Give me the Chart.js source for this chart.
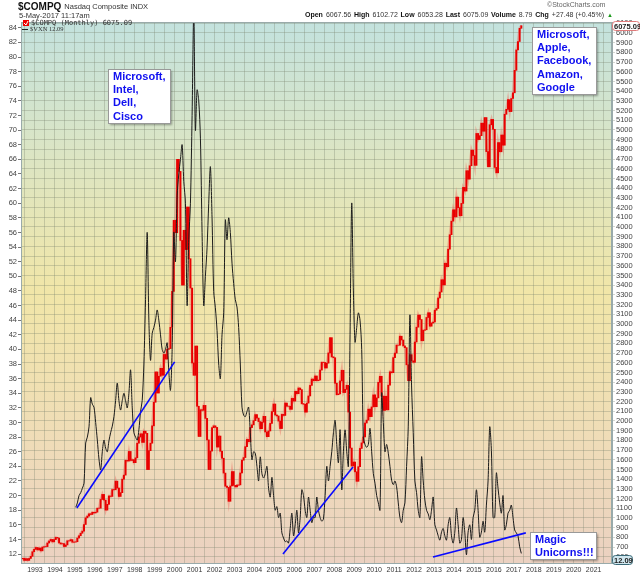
<!DOCTYPE html>
<html>
<head>
<meta charset="utf-8">
<script src="https://cdn.jsdelivr.net/npm/chart.js@4"></script>
<style>
  html, body { margin: 0; padding: 0; background: #fff; }
  canvas { display: block; }
</style>
</head>
<body>
<canvas id="chart" width="640" height="576"></canvas>
<script>
// Nasdaq Composite monthly closes, May 1992 .. May 2017
const nasdaqClose = [
  585, 563, 581, 563, 583, 605, 652, 677,
  696, 671, 690, 661, 700, 704, 705, 742, 763, 779, 754, 777,
  800, 793, 743, 733, 736, 706, 722, 765, 764, 777, 750, 752,
  755, 793, 817, 843, 865, 933, 1001, 1020, 1044, 1036, 1059, 1052,
  1060, 1100, 1101, 1191, 1243, 1185, 1081, 1141, 1227, 1222, 1293, 1291,
  1380, 1309, 1222, 1261, 1400, 1442, 1594, 1587, 1686, 1593, 1601, 1570,
  1620, 1771, 1835, 1868, 1779, 1895, 1873, 1499, 1694, 1771, 1950, 2193,
  2506, 2288, 2461, 2543, 2471, 2686, 2638, 2739, 2746, 2966, 3336, 4069,
  3940, 4697, 4573, 3861, 3401, 3966, 3767, 4206, 3673, 3370, 2598, 2471,
  2773, 2152, 1840, 2116, 2110, 2161, 2027, 1805, 1499, 1690, 1931, 1950,
  1934, 1731, 1845, 1688, 1616, 1463, 1328, 1315, 1172, 1330, 1479, 1336,
  1321, 1338, 1341, 1464, 1596, 1623, 1735, 1810, 1787, 1932, 1960, 2003,
  2066, 2030, 1994, 1920, 1987, 2048, 1887, 1838, 1897, 1975, 2097, 2175,
  2062, 2052, 1999, 1922, 2068, 2057, 2185, 2152, 2152, 2120, 2233, 2205,
  2306, 2281, 2340, 2323, 2179, 2172, 2091, 2184, 2258, 2367, 2432, 2415,
  2464, 2416, 2422, 2525, 2605, 2603, 2546, 2596, 2702, 2859, 2661, 2652,
  2389, 2271, 2279, 2413, 2523, 2293, 2326, 2368, 2092, 1721, 1536, 1577,
  1476, 1378, 1529, 1717, 1774, 1835, 1979, 2009, 2122, 2045, 2145, 2269,
  2147, 2238, 2398, 2461, 2257, 2109, 2255, 2114, 2369, 2507, 2498, 2653,
  2700, 2782, 2781, 2874, 2835, 2774, 2756, 2579, 2415, 2684, 2620, 2605,
  2814, 2967, 3092, 3046, 2827, 2935, 2940, 3067, 3116, 2977, 3010, 3020,
  3142, 3160, 3268, 3329, 3456, 3403, 3626, 3590, 3771, 3920, 4060, 4177,
  4104, 4308, 4199, 4115, 4243, 4408, 4370, 4580, 4493, 4631, 4792, 4736,
  4635, 4964, 4901, 4941, 5070, 4987, 5128, 4777, 4620, 5054, 5109, 5007,
  4614, 4558, 4870, 4775, 4948, 4843, 5162, 5213, 5312, 5189, 5324, 5383,
  5615, 5825, 5912, 6048, 6075.09
];
const nasdaqStartYear = 1992, nasdaqStartMonth = 4;

// $VXN monthly, Jan 1995 .. May 2017
const vxnValues = [
  18.4, 19, 20, 20.4, 21, 21.7, 27.2, 28, 29.4, 33.4, 32.5, 32.1,
  30, 27.6, 25, 23.5, 26, 27.6, 26.5, 26, 27.5, 28.6, 29.5, 30.8,
  33, 35.4, 33, 31.7, 33, 34, 33, 32, 34, 37.2, 32, 28.6,
  28, 27.6, 29, 31.5, 33, 38, 46.8, 56, 44, 38.5, 42.2, 43,
  44, 45.4, 44, 42, 40, 39.5, 40, 40.9, 37, 34.4, 40, 56,
  52, 61, 64, 66, 68, 63, 60, 46, 55, 60, 72, 86,
  70, 75.5, 74, 68.9, 56, 46, 50, 53.9, 60, 65, 58, 47.9,
  45.7, 42.6, 38, 36, 42, 45, 57.7, 55, 58, 56, 51.8, 49,
  46.8, 45.8, 43, 38, 32.1, 31, 30.8, 31.5, 32.1, 28.6, 24.9, 26,
  25.8, 24, 22, 25.3, 23, 22.4, 23, 24, 21, 19.8, 22.5, 20,
  18, 18.5, 17, 17.6, 14.9, 14.2, 13.7, 13.8, 13.5, 15.5, 17.6, 14.5,
  16, 18, 14.9, 17, 20.8, 20, 18, 17, 19.8, 18, 16.3, 17,
  17, 19.8, 18, 17, 16.5, 16.8, 20, 24, 22, 24, 26, 28.6,
  30.3, 27, 24.5, 29, 20.8, 26, 29, 26, 24, 42, 60, 48,
  41, 43, 45, 44, 40, 28, 27, 26.6, 27, 29.2, 26, 23,
  21.7, 20, 19, 18, 34, 30, 26, 27, 25.8, 24, 22.1, 21.5,
  22, 21.2, 19, 17, 16.3, 18, 19, 24, 29.4, 44.7, 35, 28.6,
  22, 20.4, 18, 17, 25.3, 22, 19.4, 18, 17.5, 16.7, 18, 19.8,
  16, 15.3, 14.5, 13.9, 15, 15.5, 14.5, 13.9, 16, 17, 14.5, 13.5,
  15, 18.3, 16, 13.5, 14, 17, 15, 11.9, 15, 16, 14, 17,
  18, 20.8, 18, 14.3, 15, 16.5, 15, 18.7, 22, 29.4, 26.2, 17,
  17, 23.1, 21, 19, 17.6, 20, 15.3, 16, 17.6, 18, 18.7, 17,
  15.3, 14.9, 14.5, 13, 12.09
];
const vxnStartYear = 1995;

// blue trend lines drawn on the VXN scale: [year, value] ends
const trendDotcom = [[1995.1, 18.3], [2000.0, 38.3]];
const trendHousing = [[2005.43, 12.0], [2008.94, 23.9]];
const trendUnicorn = [[2012.95, 11.6], [2017.6, 14.9]];

const yearLabels = [1993, 1994, 1995, 1996, 1997, 1998, 1999, 2000, 2001, 2002,
  2003, 2004, 2005, 2006, 2007, 2008, 2009, 2010, 2011, 2012, 2013, 2014, 2015,
  2016, 2017, 2018, 2019, 2020, 2021];
const vxnTicks = [12, 14, 16, 18, 20, 22, 24, 26, 28, 30, 32, 34, 36, 38, 40, 42, 44,
  46, 48, 50, 52, 54, 56, 58, 60, 62, 64, 66, 68, 70, 72, 74, 76, 78, 80, 82, 84];

const notes = [
  { lines: ['Microsoft,', 'Intel,', 'Dell,', 'Cisco'], box: [108, 69, 62, 54] },
  { lines: ['Microsoft,', 'Apple,', 'Facebook,', 'Amazon,', 'Google'], box: [532, 27, 64, 67] },
  { lines: ['Magic', 'Unicorns!!!'], box: [530, 532, 66, 27] }
];

const headerStats = [['Open', '6067.56'], ['High', '6102.72'], ['Low', '6053.28'],
  ['Last', '6075.09'], ['Volume', '8.79'], ['Chg', '+27.48 (+0.45%)']];

const monthTime = (y0, m0, i) => y0 + (m0 + i + 0.5) / 12;
const nasdaqPoints = nasdaqClose.map((c, i) => ({ x: monthTime(nasdaqStartYear, nasdaqStartMonth, i), y: c }));
const candleBodies = nasdaqClose.map((c, i) => ({
  x: monthTime(nasdaqStartYear, nasdaqStartMonth, i),
  y: [i ? nasdaqClose[i - 1] : c - 5, c]
}));
const vxnPoints = vxnValues.map((v, i) => ({ x: monthTime(vxnStartYear, 0, i), y: v }));
const toPts = seg => seg.map(p => ({ x: p[0], y: p[1] }));

const SANS = '"Liberation Sans", Arial, sans-serif';
const gridColor = 'rgba(120,130,110,0.32)';

const chartBackground = {
  id: 'chartBackground',
  beforeDraw(chart) {
    const { ctx, chartArea: a } = chart;
    ctx.save();
    ctx.fillStyle = '#fff';
    ctx.fillRect(0, 0, chart.width, chart.height);
    const g = ctx.createLinearGradient(0, a.top, 0, a.bottom);
    g.addColorStop(0, '#c3e2de');
    g.addColorStop(0.25, '#dce5c3');
    g.addColorStop(0.5, '#f1e6a8');
    g.addColorStop(0.78, '#efdcb8');
    g.addColorStop(1, '#ebd1c1');
    ctx.fillStyle = g;
    ctx.fillRect(a.left, a.top, a.right - a.left, a.bottom - a.top);
    ctx.restore();
  }
};

const overlays = {
  id: 'overlays',
  afterDraw(chart) {
    const { ctx, chartArea: a } = chart;
    ctx.save();
    // frame
    ctx.strokeStyle = '#9aa';
    ctx.lineWidth = 1;
    ctx.strokeRect(a.left + 0.5, a.top + 0.5, a.right - a.left - 1, a.bottom - a.top);

    // header left
    ctx.fillStyle = '#111';
    ctx.textBaseline = 'middle';
    ctx.font = 'bold 10px ' + SANS;
    ctx.fillText('$COMPQ', 18, 7);
    const w = ctx.measureText('$COMPQ').width;
    ctx.font = '7.5px ' + SANS;
    ctx.fillStyle = '#333';
    ctx.fillText('Nasdaq Composite INDX', 18 + w + 3, 7);
    ctx.fillText('5-May-2017 11:17am', 19, 15.5);

    // header right: spread the stat pairs between x=305 and x=604
    const fs = 7;
    const widths = headerStats.map(([k, v]) => {
      ctx.font = 'bold ' + fs + 'px ' + SANS;
      const kw = ctx.measureText(k).width;
      ctx.font = fs + 'px ' + SANS;
      return [kw, ctx.measureText(v).width];
    });
    const total = widths.reduce((s, [kw, vw]) => s + kw + 3 + vw, 0);
    const gap = (604 - 305 - total) / (headerStats.length - 1);
    let hx = 305;
    headerStats.forEach(([k, v], i) => {
      ctx.font = 'bold ' + fs + 'px ' + SANS;
      ctx.fillStyle = '#111';
      ctx.fillText(k, hx, 15);
      ctx.font = fs + 'px ' + SANS;
      ctx.fillStyle = '#333';
      ctx.fillText(v, hx + widths[i][0] + 3, 15);
      hx += widths[i][0] + 3 + widths[i][1] + gap;
    });
    ctx.fillStyle = '#1a9a1a';
    ctx.font = '6px ' + SANS;
    ctx.fillText('\u25B2', 607, 15);
    ctx.fillStyle = '#666';
    ctx.font = '7px ' + SANS;
    ctx.fillText('\u00A9StockCharts.com', 547, 5.5);

    // legend inside plot
    ctx.fillStyle = '#e00';
    ctx.fillRect(23, 20, 6, 6);
    ctx.strokeStyle = '#fff';
    ctx.beginPath();
    ctx.moveTo(24, 23); ctx.lineTo(26, 25); ctx.lineTo(28, 21);
    ctx.stroke();
    ctx.fillStyle = '#333';
    ctx.font = '7px "DejaVu Sans Mono", monospace';
    ctx.fillText('$COMPQ (Monthly) 6075.09', 31, 23.5);
    ctx.strokeStyle = '#222';
    ctx.beginPath();
    ctx.moveTo(22, 29.5); ctx.lineTo(28, 29.5);
    ctx.stroke();
    ctx.font = '6.5px "Liberation Serif", serif';
    ctx.fillText('$VXN 12.09', 30, 29.5);

    // right axis value flags
    ctx.font = 'bold 7.5px ' + SANS;
    ctx.fillStyle = '#fff';
    ctx.strokeStyle = '#e07a7a';
    ctx.beginPath();
    ctx.roundRect(612.5, 21.5, 27, 9, 3);
    ctx.fill(); ctx.stroke();
    ctx.fillStyle = '#222';
    ctx.fillText('6075.09', 614, 26.5);
    ctx.fillStyle = '#cfe6ee';
    ctx.strokeStyle = '#3a6a78';
    ctx.beginPath();
    ctx.roundRect(612.5, 555.5, 20, 9, 3);
    ctx.fill(); ctx.stroke();
    ctx.fillStyle = '#222';
    ctx.fillText('12.09', 614, 560.5);

    // note boxes
    notes.forEach(n => {
      const [x, y, bw, bh] = n.box;
      ctx.save();
      ctx.shadowColor = 'rgba(0,0,0,0.35)';
      ctx.shadowOffsetX = 2;
      ctx.shadowOffsetY = 2;
      ctx.shadowBlur = 2;
      ctx.fillStyle = '#fff';
      ctx.fillRect(x, y, bw, bh);
      ctx.restore();
      ctx.strokeStyle = '#999';
      ctx.strokeRect(x + 0.5, y + 0.5, bw, bh);
      ctx.fillStyle = '#1010f0';
      ctx.font = 'bold 11px ' + SANS;
      n.lines.forEach((t, i) => ctx.fillText(t, x + 5, y + 8 + i * 13.2));
    });
    ctx.restore();
  }
};

const blueLine = seg => ({
  type: 'line', data: toPts(seg), yAxisID: 'y', borderColor: '#0a0aff',
  borderWidth: 1.6, pointRadius: 0, order: 0
});

new Chart(document.getElementById('chart').getContext('2d'), {
  type: 'line',
  data: {
    datasets: [
      blueLine(trendDotcom),
      blueLine(trendHousing),
      blueLine(trendUnicorn),
      {
        type: 'line', label: '$VXN', data: vxnPoints, yAxisID: 'y',
        borderColor: '#1c1c1c', borderWidth: 1, pointRadius: 0, tension: 0.3, order: 1
      },
      {
        type: 'bar', label: '$COMPQ', data: candleBodies, yAxisID: 'y2',
        backgroundColor: '#e80000', barThickness: 1.3, order: 2
      },
      {
        type: 'line', label: 'range', data: nasdaqPoints, yAxisID: 'y2',
        borderColor: 'rgba(235,110,100,0.45)', borderWidth: 2.5, pointRadius: 0, order: 3
      }
    ]
  },
  options: {
    responsive: false,
    animation: false,
    layout: { padding: { top: 22, left: 0, right: 0, bottom: 0 } },
    plugins: { legend: { display: false }, tooltip: { enabled: false } },
    scales: {
      x: {
        type: 'linear', min: 1992.3, max: 2021.92, offset: false,
        afterBuildTicks: s => {
          const t = [];
          yearLabels.forEach(y => { t.push({ value: y - 0.5 }, { value: y }); });
          t.push({ value: 2021.5 });
          s.ticks = t;
        },
        afterFit: s => { s.height = 13; },
        grid: { color: gridColor, offset: false, drawTicks: false },
        border: { display: false },
        ticks: {
          autoSkip: false, maxRotation: 0, padding: 3,
          color: '#333', font: { family: SANS, size: 7 },
          callback: v => (Number.isInteger(v) ? String(v) : '')
        }
      },
      y: {
        type: 'linear', position: 'left', min: 10.78, max: 84.79,
        afterBuildTicks: s => { s.ticks = vxnTicks.map(v => ({ value: v })); },
        afterFit: s => { s.width = 21; },
        grid: { drawOnChartArea: false, tickLength: 3, color: '#777' },
        border: { color: '#9aa' },
        ticks: { autoSkip: false, padding: 1, color: '#444', font: { family: SANS, size: 7.5 } }
      },
      y2: {
        type: 'linear', position: 'right', min: 536, max: 6113,
        afterBuildTicks: s => {
          const t = [];
          for (let v = 600; v <= 6100; v += 100) t.push({ value: v });
          s.ticks = t;
        },
        afterFit: s => { s.width = 28; },
        grid: { color: gridColor, tickLength: 3 },
        border: { color: '#9aa' },
        ticks: {
          autoSkip: false, padding: 1, color: '#444', font: { family: SANS, size: 7.5 },
          callback: v => String(v)
        }
      }
    }
  },
  plugins: [chartBackground, overlays]
});
</script>
</body>
</html>
